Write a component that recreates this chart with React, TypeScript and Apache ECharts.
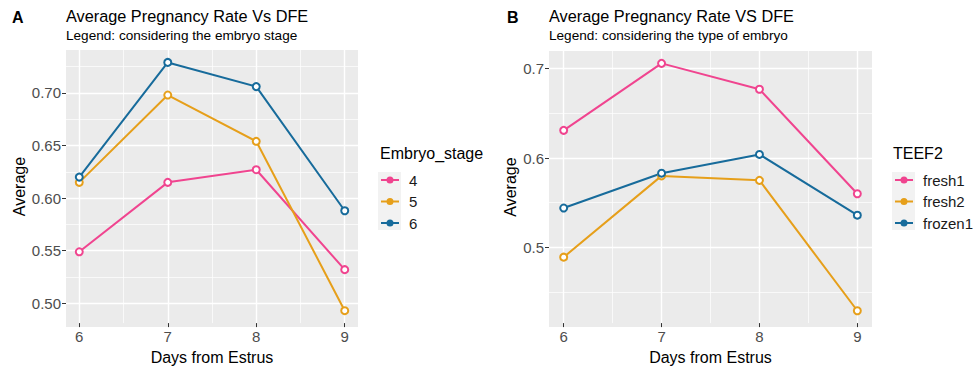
import React, { useEffect, useRef } from "react";
import * as echarts from "echarts";

const DAYS = [6, 7, 8, 9];
const X_MINOR = [6.5, 7.5, 8.5];

const STAGE_NAMES = ["4", "5", "6"];
const STAGE_4 = [0.549, 0.615, 0.627, 0.532];
const STAGE_5 = [0.615, 0.698, 0.654, 0.493];
const STAGE_6 = [0.62, 0.729, 0.706, 0.588];

const TYPE_NAMES = ["fresh1", "fresh2", "frozen1"];
const FRESH1 = [0.631, 0.706, 0.677, 0.56];
const FRESH2 = [0.489, 0.58, 0.575, 0.429];
const FROZEN1 = [0.544, 0.583, 0.604, 0.536];

const LEFT_Y_TICKS = [0.5, 0.55, 0.6, 0.65, 0.7];
const LEFT_Y_MINOR = [0.475, 0.525, 0.575, 0.625, 0.675, 0.725];
const RIGHT_Y_TICKS = [0.5, 0.6, 0.7];
const RIGHT_Y_MINOR = [0.45, 0.55, 0.65];

const COLORS = ["#F0448F", "#E69F1A", "#176B9B"];
const FONT = "'Liberation Sans', Arial, Helvetica, sans-serif";
const LEGEND_ICON =
  "path://M0,2.6H18V4.4H0Z M5.5,3.5A3.5,3.5 0 1 1 12.5,3.5A3.5,3.5 0 1 1 5.5,3.5Z";

function expand(vals: number[], f = 0.05): [number, number] {
  const mn = Math.min(...vals);
  const mx = Math.max(...vals);
  const r = mx - mn;
  return [mn - r * f, mx + r * f];
}

function xAxes(gridIndex: number) {
  const [mn, mx] = expand(DAYS);
  const base = {
    gridIndex,
    type: "value",
    position: "bottom",
    min: mn,
    max: mx,
    axisLine: { show: false },
  };
  return [
    {
      ...base,
      axisTick: { show: true, customValues: DAYS, length: 4, lineStyle: { color: "#333333", width: 1 } },
      axisLabel: { customValues: DAYS, color: "#4D4D4D", fontSize: 15, fontFamily: FONT, margin: 6 },
      splitLine: { show: true, lineStyle: { color: "#FFFFFF", width: 1.4 } },
      name: "Days from Estrus",
      nameLocation: "middle",
      nameGap: 22,
      nameTextStyle: { color: "#000000", fontSize: 16, fontFamily: FONT },
    },
    {
      ...base,
      axisTick: { show: false, customValues: X_MINOR },
      axisLabel: { show: false, customValues: X_MINOR },
      splitLine: { show: true, lineStyle: { color: "#FFFFFF", width: 0.7 } },
    },
  ];
}

function yAxes(gridIndex: number, data: number[], ticks: number[], minor: number[], decimals: number, gap: number) {
  const [mn, mx] = expand(data);
  const base = {
    gridIndex,
    type: "value",
    position: "left",
    min: mn,
    max: mx,
    axisLine: { show: false },
  };
  const minorIn = minor.filter((m) => m > mn && m < mx);
  return [
    {
      ...base,
      axisTick: { show: true, customValues: ticks, length: 4, lineStyle: { color: "#333333", width: 1 } },
      axisLabel: {
        customValues: ticks,
        color: "#4D4D4D",
        fontSize: 15,
        fontFamily: FONT,
        margin: 5,
        formatter: (v: number) => v.toFixed(decimals),
      },
      splitLine: { show: true, lineStyle: { color: "#FFFFFF", width: 1.4 } },
      name: "Average",
      nameLocation: "middle",
      nameGap: gap,
      nameRotate: 90,
      nameTextStyle: { color: "#000000", fontSize: 16, fontFamily: FONT },
    },
    {
      ...base,
      axisTick: { show: false, customValues: minorIn },
      axisLabel: { show: false, customValues: minorIn },
      splitLine: { show: true, lineStyle: { color: "#FFFFFF", width: 0.7 } },
    },
  ];
}

function lineSeries(name: string, values: number[], color: string, axisIdx: number) {
  return {
    name,
    type: "line",
    xAxisIndex: axisIdx,
    yAxisIndex: axisIdx,
    data: DAYS.map((d, i) => [d, values[i]]),
    symbol: "emptyCircle",
    symbolSize: 7,
    lineStyle: { color, width: 2 },
    itemStyle: { color, borderColor: color, borderWidth: 1.8 },
    z: 5,
  };
}

function txt(x: number, y: number, text: string, size: number, bold = false) {
  return {
    type: "text",
    x,
    y,
    style: {
      text,
      fontSize: size,
      fontFamily: FONT,
      fontWeight: bold ? "bold" : "normal",
      fill: "#000",
      textVerticalAlign: "middle",
    },
  };
}

export default function App() {
  const ref = useRef<HTMLDivElement>(null);
  useEffect(() => {
    if (!ref.current) return;
    const chart = echarts.init(ref.current, undefined, { renderer: "svg" });
    const leftAll = [...STAGE_4, ...STAGE_5, ...STAGE_6];
    const rightAll = [...FRESH1, ...FRESH2, ...FROZEN1];
    const leftVals = [STAGE_4, STAGE_5, STAGE_6];
    const rightVals = [FRESH1, FRESH2, FROZEN1];

    const legendCommon = {
      orient: "vertical",
      padding: 0,
      icon: LEGEND_ICON,
      itemWidth: 18,
      itemHeight: 7,
      itemGap: 6.5,
      itemStyle: { borderWidth: 0 },
      textStyle: { color: "#1A1A1A", fontSize: 15, fontFamily: FONT, lineHeight: 15, padding: [0, 0, 0, 5] },
    };

    const option: any = {
      animation: false,
      backgroundColor: "#FFFFFF",
      grid: [
        { left: 66, top: 50, width: 292, height: 277 },
        { left: 549, top: 51, width: 323, height: 276 },
      ],
      xAxis: [...xAxes(0), ...xAxes(1)],
      yAxis: [
        ...yAxes(0, leftAll, LEFT_Y_TICKS, LEFT_Y_MINOR, 2, 39),
        ...yAxes(1, rightAll, RIGHT_Y_TICKS, RIGHT_Y_MINOR, 1, 31),
      ],
      legend: [
        { ...legendCommon, data: STAGE_NAMES, left: 381, top: 172.5 },
        { ...legendCommon, data: TYPE_NAMES, left: 895, top: 172.5 },
      ],
      series: [
        ...STAGE_NAMES.map((n, i) => lineSeries(n, leftVals[i], COLORS[i], 0)),
        ...TYPE_NAMES.map((n, i) => lineSeries(n, rightVals[i], COLORS[i], 2)),
      ],
      graphic: [
        { type: "rect", shape: { x: 0, y: 0, width: 292, height: 277 }, x: 66, y: 50, style: { fill: "#EBEBEB" }, z: -10, silent: true },
        { type: "rect", shape: { x: 0, y: 0, width: 323, height: 276 }, x: 549, y: 51, style: { fill: "#EBEBEB" }, z: -10, silent: true },
        { type: "rect", shape: { x: 0, y: 0, width: 23, height: 58 }, x: 378, y: 172, style: { fill: "#F2F2F2" }, z: -10, silent: true },
        { type: "rect", shape: { x: 0, y: 0, width: 23, height: 58 }, x: 892, y: 172, style: { fill: "#F2F2F2" }, z: -10, silent: true },
        txt(12, 17, "A", 16, true),
        txt(66, 16, "Average Pregnancy Rate Vs DFE", 16.3),
        txt(66, 35, "Legend: considering the embryo stage", 13.6),
        txt(507, 17, "B", 16, true),
        txt(549, 16, "Average Pregnancy Rate VS DFE", 16.3),
        txt(549, 35, "Legend: considering the type of embryo", 13.6),
        txt(380, 153, "Embryo_stage", 16),
        txt(893, 153, "TEEF2", 16),
      ],
    };
    chart.setOption(option);
    return () => chart.dispose();
  }, []);
  return <div ref={ref} style={{ position: "fixed", left: 0, top: 0, width: 975, height: 370 }} />;
}
